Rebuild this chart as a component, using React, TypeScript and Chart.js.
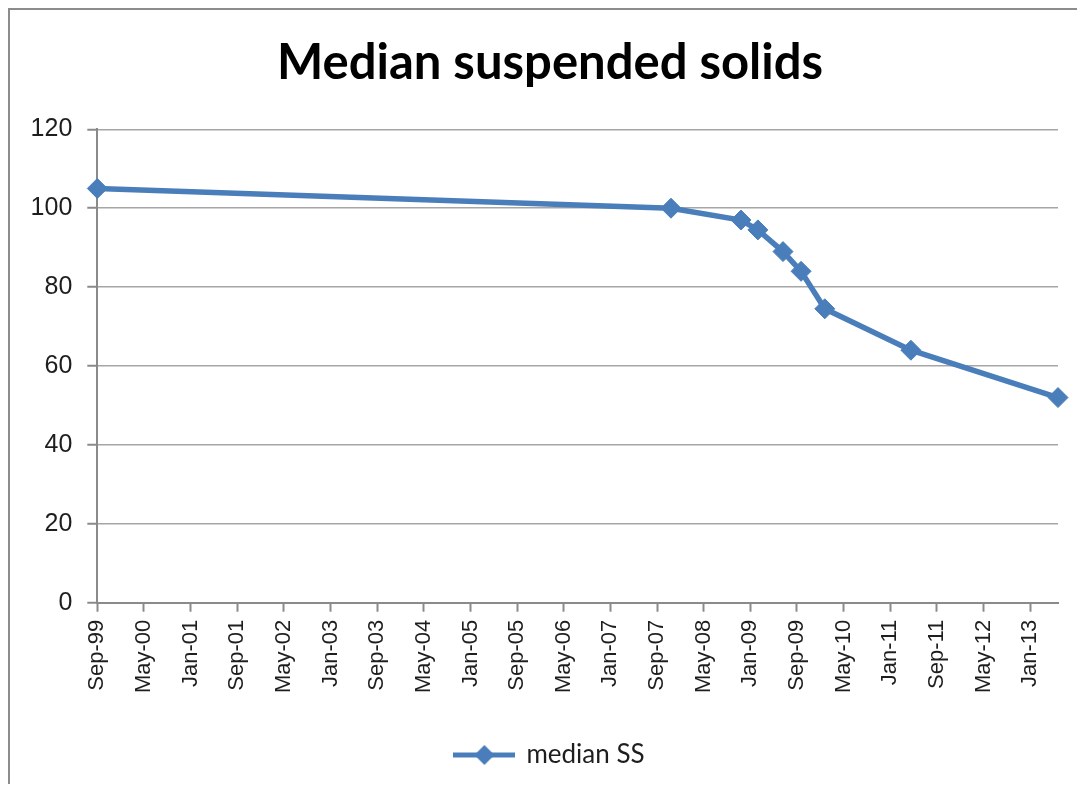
import React, { useEffect, useRef } from "react";
import { Chart, registerables } from "chart.js";

Chart.register(...registerables);

// ---- data ----
const chartTitle = "Median suspended solids";
const seriesName = "median SS";
const sampleDates = [
  "1999-09-15",
  "2007-11-27",
  "2008-11-27",
  "2009-02-24",
  "2009-07-03",
  "2009-10-06",
  "2010-02-08",
  "2011-05-01",
  "2013-06-08",
];
const medianSS = [105, 100, 97, 94.5, 89, 84, 74.5, 64, 52];
const xTickLabels = [
  "Sep-99", "May-00", "Jan-01", "Sep-01", "May-02", "Jan-03", "Sep-03",
  "May-04", "Jan-05", "Sep-05", "May-06", "Jan-07", "Sep-07", "May-08",
  "Jan-09", "Sep-09", "May-10", "Jan-11", "Sep-11", "May-12", "Jan-13",
];
const yMin = 0;
const yMax = 120;
const yStep = 20;

const MONTH_NAMES = ["Jan", "Feb", "Mar", "Apr", "May", "Jun", "Jul", "Aug", "Sep", "Oct", "Nov", "Dec"];

const [originYear, originMonth] = sampleDates[0].split("-").map(Number);

function monthsFromDate(s: string): number {
  const [y, m, d] = s.split("-").map(Number);
  return (y - originYear) * 12 + (m - originMonth) + (d - 15) / 30.44;
}
function monthsFromLabel(l: string): number {
  const [mon, yy] = l.split("-");
  const m = MONTH_NAMES.indexOf(mon) + 1;
  const n = Number(yy);
  const y = n > 50 ? 1900 + n : 2000 + n;
  return (y - originYear) * 12 + (m - originMonth);
}

const LINE_COLOR = "#4a7ebb";
const AXIS_COLOR = "#8a8a8a";
const GRID_COLOR = "#a6a6a6";
const TEXT_COLOR = "#1e1e1e";

function makeLegendIcon(): HTMLCanvasElement {
  const c = document.createElement("canvas");
  c.width = 62;
  c.height = 24;
  const ctx = c.getContext("2d")!;
  ctx.strokeStyle = LINE_COLOR;
  ctx.lineWidth = 5;
  ctx.beginPath();
  ctx.moveTo(0, 12);
  ctx.lineTo(62, 12);
  ctx.stroke();
  ctx.fillStyle = LINE_COLOR;
  ctx.beginPath();
  ctx.moveTo(31 - 10, 12);
  ctx.lineTo(31, 2);
  ctx.lineTo(31 + 10, 12);
  ctx.lineTo(31, 22);
  ctx.closePath();
  ctx.fill();
  return c;
}

// lets the y-axis labels use the left padding area (so the title can be centred like the reference)
const widenYAxis = {
  id: "widenYAxis",
  afterLayout(chart: any) {
    const s = chart.scales.y;
    if (s) {
      s.left = 0;
      s.width = s.right - s.left;
    }
  },
};

export default function App() {
  const canvasRef = useRef<HTMLCanvasElement | null>(null);

  useEffect(() => {
    if (!canvasRef.current) return;
    const points = sampleDates.map((d, i) => ({ x: monthsFromDate(d), y: medianSS[i] }));
    const xMax = monthsFromDate(sampleDates[sampleDates.length - 1]);
    const legendIcon = makeLegendIcon();

    const chart = new Chart(canvasRef.current, {
      type: "line",
      data: {
        datasets: [
          {
            label: seriesName,
            data: points,
            borderColor: LINE_COLOR,
            backgroundColor: LINE_COLOR,
            borderWidth: 5.5,
            pointStyle: "rectRot",
            pointRadius: 10,
            pointHoverRadius: 10,
            pointBackgroundColor: LINE_COLOR,
            pointBorderColor: LINE_COLOR,
            pointBorderWidth: 1,
            tension: 0,
            clip: false as any,
          },
        ],
      },
      plugins: [widenYAxis],
      options: {
        animation: false,
        responsive: false,
        devicePixelRatio: 1,
        events: [],
        layout: { padding: { left: 32, right: 19, top: 0, bottom: 6 } },
        plugins: {
          title: {
            display: true,
            text: chartTitle,
            color: "#000000",
            font: { family: "Lato", size: 49, weight: "bold" },
            padding: { top: 24, bottom: 36.5 },
          },
          legend: {
            display: true,
            position: "bottom",
            labels: {
              usePointStyle: true,
              pointStyle: legendIcon as any,
              pointStyleWidth: 58,
              color: TEXT_COLOR,
              font: { family: "Lato", size: 26 },
              padding: 10,
            },
          },
          tooltip: { enabled: false },
        },
        scales: {
          x: {
            type: "linear",
            min: 0,
            max: xMax,
            afterBuildTicks: (scale: any) => {
              scale.ticks = xTickLabels.map((l) => ({ value: monthsFromLabel(l) }));
            },
            afterFit: (scale: any) => {
              scale.height = 129.3;
            },
            ticks: {
              autoSkip: false,
              maxRotation: 90,
              minRotation: 90,
              padding: 8,
              color: TEXT_COLOR,
              font: { family: "Liberation Sans", size: 22 },
              callback: (_v: any, i: number) => xTickLabels[i],
            },
            grid: {
              drawOnChartArea: false,
              drawTicks: true,
              tickLength: 9,
              tickColor: AXIS_COLOR,
              tickWidth: 2,
            },
            border: { display: true, color: AXIS_COLOR, width: 2 },
          },
          y: {
            type: "linear",
            min: yMin,
            max: yMax,
            afterFit: (scale: any) => {
              scale.width = 55.3;
            },
            ticks: {
              stepSize: yStep,
              padding: 15,
              color: TEXT_COLOR,
              font: { family: "Liberation Sans", size: 25 },
            },
            grid: {
              color: GRID_COLOR,
              lineWidth: 1.5,
              tickLength: 10,
              tickColor: AXIS_COLOR,
              tickWidth: 2,
            },
            border: { display: true, color: AXIS_COLOR, width: 2 },
          },
        },
      },
    });
    return () => chart.destroy();
  }, []);

  return (
    <div
      style={{
        width: 1069,
        height: 776,
        boxSizing: "border-box",
        borderLeft: "2px solid #8c8c8c",
        borderTop: "2px solid #8c8c8c",
        background: "#ffffff",
        overflow: "hidden",
      }}
    >
      <canvas ref={canvasRef} width={1067} height={774} style={{ display: "block" }} />
    </div>
  );
}
